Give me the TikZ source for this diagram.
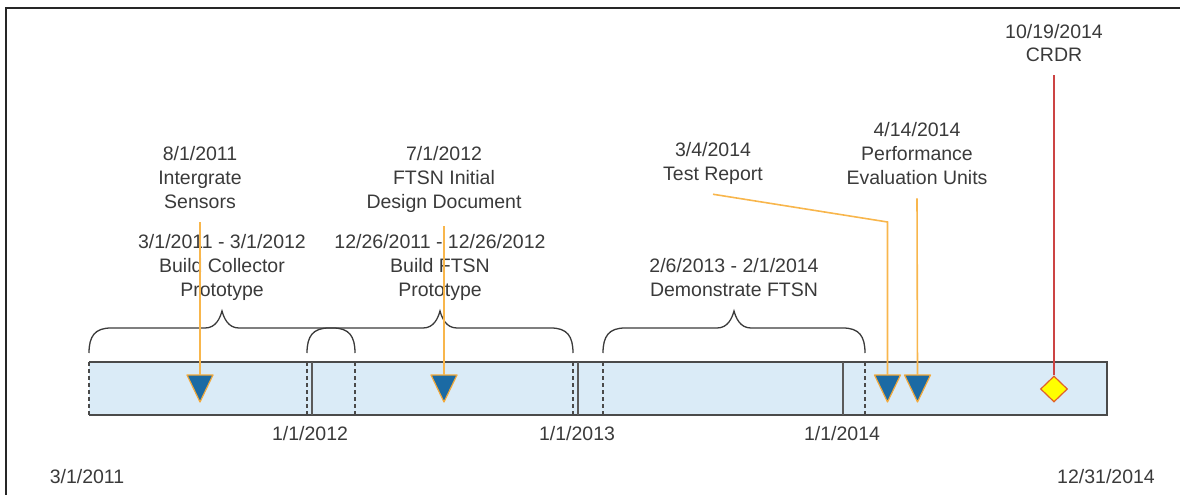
\documentclass[tikz,border=0pt]{standalone}
\usepackage{fontspec}
\setmainfont{Liberation Sans}
\usetikzlibrary{shapes.geometric}

\definecolor{ink}{HTML}{3A3A3A}
\definecolor{barfill}{HTML}{DAEBF7}
\definecolor{barline}{HTML}{4A4A4A}
\definecolor{yearline}{HTML}{5A5A5A}
\definecolor{tlfill}{HTML}{1B6AA4}
\definecolor{amber}{HTML}{F2A93B}
\definecolor{amberln}{HTML}{F8B64C}
\definecolor{crdrln}{HTML}{CC4444}
\definecolor{dmdfill}{HTML}{FFFF00}
\definecolor{dmdline}{HTML}{E0602A}

% curly brace over a span: left end, peak, right end
\newcommand\spanbrace[3]{%
  \draw[bracestyle] (#1,353) .. controls (#1,336) and (#1+6,328) .. (#1+22,328)
    -- (#2-17,328) .. controls (#2-6,328) and (#2-2,318) .. (#2,311)
    .. controls (#2+2,318) and (#2+6,328) .. (#2+17,328)
    -- (#3-22,328) .. controls (#3-6,328) and (#3,336) .. (#3,353);}

% downward milestone triangle whose top edge centre is the named coordinate
\newcommand\msmark[2]{%
  \coordinate (#1) at (#2,375);
  \draw[marker] (#1) ++(-13,0) -- ++(26,0) -- ++(-13,27) -- cycle;}

\begin{document}
\begin{tikzpicture}[x=1pt,y=-1pt,
  lbl/.style={align=center,inner sep=0pt,text=ink,
    font=\fontsize{19.5}{24}\selectfont,anchor=base},
  bracestyle/.style={draw=ink,line width=1.3pt},
  marker/.style={fill=tlfill,draw=amber,line width=1.2pt,line join=round},
  feeder/.style={draw=amberln,line width=1.6pt},
  dashmark/.style={draw=barline,line width=1.5pt,dash pattern=on 4pt off 3pt},
  yearmark/.style={draw=yearline,line width=2pt},
  ]
\useasboundingbox (0,0) rectangle (1180,495);

% outer frame (left and top edges)
\draw[line width=1.6pt,draw=black!85] (6,495) -- (6,8) -- (1180,8);

% timeline bar
\fill[barfill] (89,362) rectangle (1107,415);
\draw[barline,line width=1.5pt] (89,362) -- (1107,362) -- (1107,415) -- (89,415);

% year boundaries
\foreach \x in {311.5,577.5,842.5}
  \draw[yearmark] (\x,362) -- (\x,415);
% span boundaries
\foreach \x in {89,307,355,573,603,865}
  \draw[dashmark] (\x,362) -- (\x,415);

% spans
\spanbrace{89}{222}{355}
\spanbrace{307}{440}{573}
\spanbrace{603}{734}{865}

% span labels (anchored on the baseline of the last line)
\node[lbl] (span1) at (222,296) {3/1/2011 - 3/1/2012\\Build Collector\\Prototype};
\node[lbl] (span2) at (440,296) {12/26/2011 - 12/26/2012\\Build FTSN\\Prototype};
\node[lbl] (span3) at (734,296) {2/6/2013 - 2/1/2014\\Demonstrate FTSN};

% milestone labels
\node[lbl] (ms1) at (200,208) {8/1/2011\\Intergrate\\Sensors};
\node[lbl] (ms2) at (444,208) {7/1/2012\\FTSN Initial\\Design Document};
\node[lbl] (ms3) at (713,180) {3/4/2014\\Test Report};
\node[lbl] (ms4) at (917,184) {4/14/2014\\Performance\\Evaluation Units};
\node[lbl] (ms5) at (1054,62) {10/19/2014\\CRDR};

% axis labels
\node[lbl] (y2012) at (310,440) {1/1/2012};
\node[lbl] (y2013) at (577,440) {1/1/2013};
\node[lbl] (y2014) at (842,440) {1/1/2014};
\node[lbl] (tstart) at (87,483) {3/1/2011};
\node[lbl] (tend) at (1106,483) {12/31/2014};

% milestone markers
\msmark{t1}{200}
\msmark{t2}{444}
\msmark{t3}{887.5}
\msmark{t4}{917.5}
\node[diamond,fill=dmdfill,draw=dmdline,line width=1.2pt,inner sep=0pt,
  minimum width=27pt,minimum height=26pt] (crdr) at (1054,389) {};

% connectors
\coordinate (bend3) at (887.5,222);
\draw[feeder] (ms1.south) ++(0,14) -- (t1);
\draw[feeder] (ms2.south) ++(0,14) -- (t2);
\draw[feeder] (ms3.south) ++(0,10) -- (bend3) -- (t3);
\draw[feeder] (ms4.south) ++(0,14) -- (t4);
\draw[crdrln,line width=1.6pt] (ms5.south) ++(0,13) -- (crdr.north);
\end{tikzpicture}
\end{document}
